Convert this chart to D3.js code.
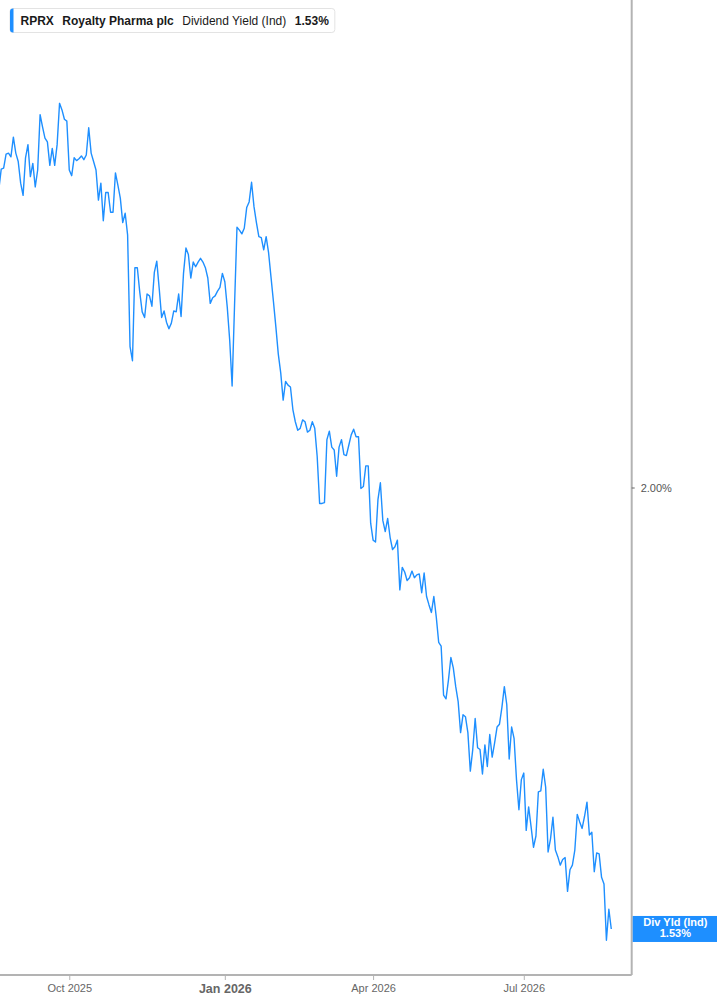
<!DOCTYPE html>
<html><head><meta charset="utf-8">
<script src="https://cdn.jsdelivr.net/npm/d3@7"></script>
<style>
body{margin:0;background:#fff;}
svg{display:block;font-family:"Liberation Sans",Arial,sans-serif;}
</style>
</head><body>
<svg id="c" width="717" height="1005"></svg>
<script>
// ---- data ----
const ticker = "RPRX";
const company = "Royalty Pharma plc";
const metric = "Dividend Yield (Ind)";
const endLabel = "Div Yld (Ind)";
const startDate = "2025-08-20";
const holidays = ["2025-09-01","2025-11-27","2025-12-25","2026-01-01","2026-01-19","2026-02-16","2026-04-03","2026-05-25","2026-06-19","2026-07-03"];
const yieldValues = [
2.317,2.339,2.340,2.355,2.356,2.352,2.373,2.356,2.347,2.324,
2.311,2.351,2.365,2.331,2.345,2.320,2.338,2.397,2.384,2.372,
2.368,2.343,2.361,2.343,2.365,2.409,2.402,2.392,2.390,2.338,
2.332,2.351,2.348,2.350,2.353,2.349,2.354,2.383,2.356,2.347,
2.338,2.306,2.324,2.284,2.314,2.314,2.293,2.293,2.335,2.322,
2.308,2.282,2.292,2.269,2.150,2.135,2.234,2.234,2.208,2.187,
2.181,2.206,2.204,2.193,2.229,2.241,2.212,2.181,2.188,2.176,
2.169,2.175,2.188,2.187,2.206,2.182,2.228,2.255,2.248,2.223,
2.240,2.235,2.240,2.244,2.240,2.234,2.223,2.196,2.202,2.204,
2.209,2.213,2.228,2.219,2.192,2.157,2.108,2.194,2.277,2.274,
2.270,2.276,2.298,2.304,2.325,2.299,2.282,2.267,2.266,2.253,
2.267,2.250,2.224,2.198,2.171,2.142,2.122,2.093,2.113,2.109,
2.107,2.083,2.070,2.061,2.063,2.072,2.070,2.059,2.061,2.070,
2.063,2.033,1.983,1.983,1.984,2.051,2.060,2.043,2.040,2.012,
2.043,2.051,2.035,2.034,2.045,2.056,2.062,2.054,2.054,1.999,
2.001,2.023,2.023,1.962,1.944,1.942,1.987,2.005,1.965,1.953,
1.967,1.947,1.934,1.937,1.944,1.891,1.915,1.910,1.901,1.904,
1.911,1.904,1.907,1.908,1.888,1.909,1.884,1.875,1.867,1.884,
1.862,1.835,1.831,1.779,1.775,1.795,1.819,1.808,1.788,1.772,
1.739,1.758,1.756,1.739,1.698,1.721,1.754,1.723,1.721,1.695,
1.726,1.703,1.737,1.713,1.728,1.745,1.748,1.766,1.788,1.769,
1.711,1.745,1.733,1.689,1.657,1.689,1.696,1.635,1.660,1.639,
1.617,1.629,1.676,1.677,1.700,1.681,1.612,1.626,1.649,1.614,
1.607,1.598,1.604,1.606,1.570,1.593,1.598,1.614,1.652,1.644,
1.637,1.650,1.665,1.630,1.633,1.591,1.611,1.610,1.585,1.578,
1.518,1.551,1.530
];
const yTicks = [2.00];
const xTickMonths = ["2025-10","2026-01","2026-04","2026-07"];
const xTickLabels = ["Oct 2025","Jan 2026","Apr 2026","Jul 2026"];
const yDomain = [1.481, 2.519];

// ---- trading-day calendar ----
const fmt = d3.utcFormat("%Y-%m-%d");
const dates = [];
{
  let d = new Date(startDate + "T00:00:00Z");
  while (dates.length < yieldValues.length) {
    const wd = d.getUTCDay();
    if (wd !== 0 && wd !== 6 && !holidays.includes(fmt(d))) dates.push(new Date(d));
    d = d3.utcDay.offset(d, 1);
  }
}
const data = yieldValues.map((v, i) => ({i, date: dates[i], v}));

// ---- layout ----
const W = 717, H = 1005;
const plotRight = 631.7, plotBottom = 975;
const blue = "#1e8fff";
const grey = "#b3b3b3";
const svg = d3.select("#c");

const x = d3.scaleLinear().domain([0.5, yieldValues.length - 1 + 8.4]).range([0, plotRight]);
const y = d3.scaleLinear().domain(yDomain).range([plotBottom, 0]);

svg.append("defs").append("clipPath").attr("id", "clip")
  .append("rect").attr("x", 0).attr("y", 0).attr("width", plotRight).attr("height", plotBottom);

// line
const line = d3.line().x(d => x(d.i)).y(d => y(d.v));
svg.append("path").datum(data)
  .attr("clip-path", "url(#clip)")
  .attr("fill", "none").attr("stroke", blue).attr("stroke-width", 1.4)
  .attr("stroke-linejoin", "round")
  .attr("d", line);

// x axis
const tickIdx = xTickMonths.map(m => data.find(d => d3.utcFormat("%Y-%m")(d.date) === m).i);
const xAxis = d3.axisBottom(x).tickValues(tickIdx).tickSize(5).tickSizeOuter(0)
  .tickFormat((d, k) => xTickLabels[k]);
const gx = svg.append("g").attr("transform", `translate(0,${plotBottom})`).call(xAxis);
gx.select(".domain").attr("stroke", grey).attr("stroke-width", 2).attr("d", `M0,0H${plotRight}`);
gx.selectAll(".tick line").attr("stroke", grey);
gx.selectAll(".tick text").attr("fill", "#666").attr("dy", "0.71em").attr("y", 9)
  .attr("font-family", "'Liberation Sans',Arial,sans-serif")
  .attr("font-weight", (d, k) => xTickLabels[k].startsWith("Jan") ? "bold" : "normal")
  .attr("font-size", (d, k) => xTickLabels[k].startsWith("Jan") ? 12.5 : 11);

// y axis (right)
const yAxis = d3.axisRight(y).tickValues(yTicks).tickSize(3).tickSizeOuter(0)
  .tickFormat(d => d.toFixed(2) + "%");
const gy = svg.append("g").attr("transform", `translate(${plotRight},0)`).call(yAxis);
gy.select(".domain").attr("stroke", grey).attr("stroke-width", 2).attr("d", `M0,0V${plotBottom}`);
gy.selectAll(".tick line").attr("stroke", "#666");
gy.selectAll(".tick text").attr("fill", "#555").attr("font-size", 11).attr("x", 9)
  .attr("font-family", "'Liberation Sans',Arial,sans-serif");

// end label
const last = data[data.length - 1];
const ly = y(last.v);
const lab = svg.append("g");
lab.append("rect").attr("x", plotRight + 1).attr("y", ly - 13).attr("width", W - plotRight).attr("height", 26).attr("fill", blue);
lab.append("text").attr("x", (plotRight + W) / 2 + 1).attr("y", ly - 5.5).attr("text-anchor", "middle")
  .attr("dominant-baseline", "middle").attr("fill", "#fff").attr("font-weight", "bold").attr("font-size", 11).text(endLabel);
lab.append("text").attr("x", (plotRight + W) / 2 + 1).attr("y", ly + 5.5).attr("text-anchor", "middle")
  .attr("dominant-baseline", "middle").attr("fill", "#fff").attr("font-weight", "bold").attr("font-size", 11)
  .text(last.v.toFixed(2) + "%");

// legend
const leg = svg.append("g");
const boxX = 10, boxY = 8.5, boxH = 24;
const bg = leg.append("rect").attr("x", boxX).attr("y", boxY).attr("height", boxH).attr("rx", 3)
  .attr("fill", "#fff").attr("stroke", "#e3e3e3");
leg.append("path").attr("d", `M${boxX+3},${boxY}H${boxX+3.5}V${boxY+boxH}H${boxX+3}a3,3 0 0 1 -3,-3V${boxY+3}a3,3 0 0 1 3,-3Z`).attr("fill", blue);
const parts = [
  {t: ticker, w: "bold"},
  {t: company, w: "bold"},
  {t: metric, w: "normal"},
  {t: last.v.toFixed(2) + "%", w: "bold"}
];
let cx = 20.5;
parts.forEach(p => {
  const t = leg.append("text").attr("x", cx).attr("y", boxY + 16).attr("font-size", 12)
    .attr("font-weight", p.w).attr("fill", "#1a1a1a").text(p.t);
  cx += t.node().getComputedTextLength() + 8.5;
});
bg.attr("width", cx - 8.5 + 6 - boxX);
</script>
</body></html>
